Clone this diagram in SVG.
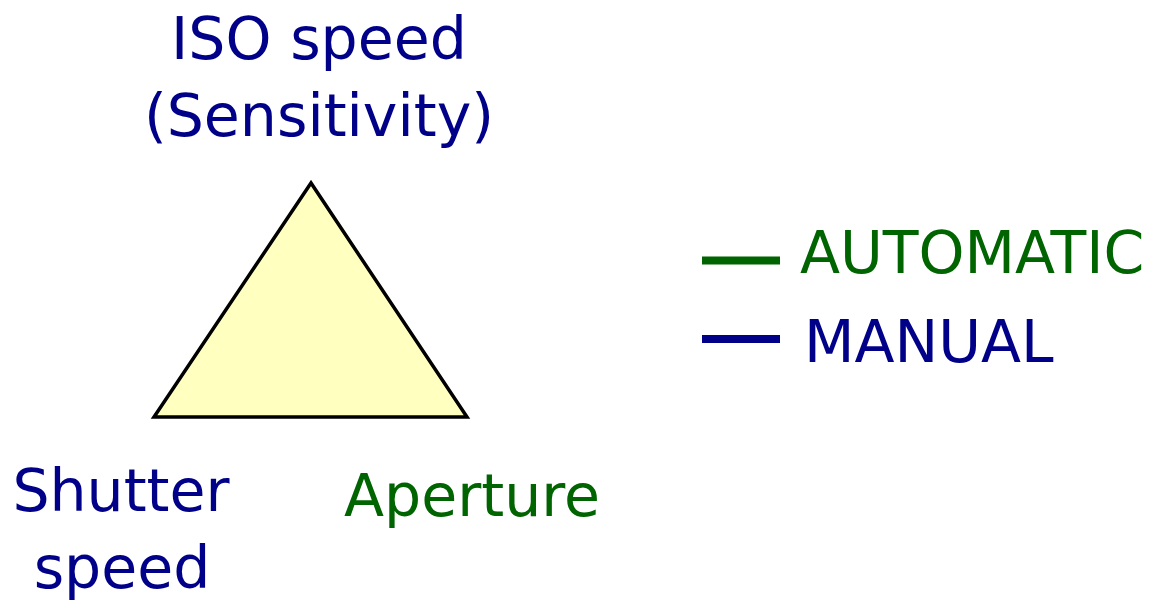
<svg xmlns="http://www.w3.org/2000/svg" width="1150" height="600" viewBox="0 0 1150 600">
<style>
text{font-family:"DejaVu Sans",sans-serif;font-size:58.5px}
.b{fill:#000088}
.g{fill:#006400}
</style>
<rect width="1150" height="600" fill="#fff"/>
<g id="triangle"><polygon points="311,183 154,417 467,417" fill="#ffffc0" stroke="#000" stroke-width="3.5"/></g>
<g id="iso"><text class="b" x="319" y="59" text-anchor="middle">ISO speed</text><text class="b" x="319" y="136" text-anchor="middle">(Sensitivity)</text></g>
<g id="shutter"><text class="b" x="121" y="511" text-anchor="middle">Shutter</text><text class="b" x="122" y="588" text-anchor="middle">speed</text></g>
<g id="aperture"><text class="g" x="472" y="516" text-anchor="middle">Aperture</text></g>
<g id="legend">
<line x1="702" y1="260.5" x2="780" y2="260.5" stroke="#006400" stroke-width="8"/>
<line x1="702" y1="339" x2="780" y2="339" stroke="#000088" stroke-width="8"/>
<text class="g" x="800" y="273">AUTOMATIC</text>
<text class="b" x="804" y="362">MANUAL</text>
</g>
</svg>
